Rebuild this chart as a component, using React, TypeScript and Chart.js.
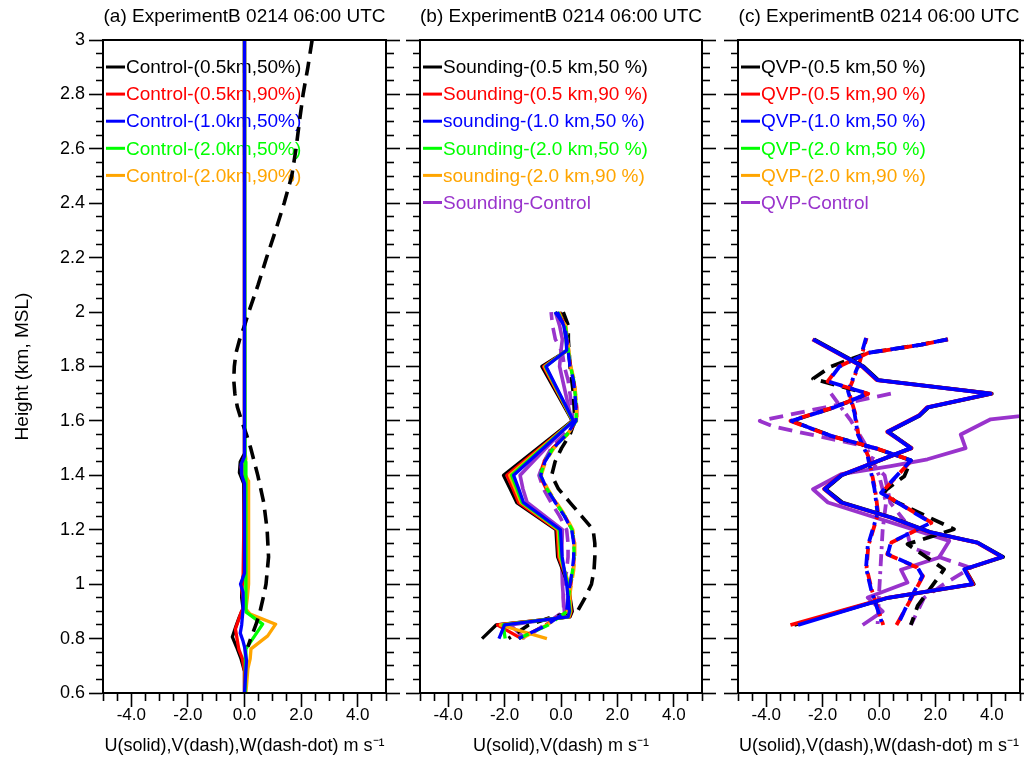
import { useEffect, useRef } from 'react';
import { Chart, registerables } from 'chart.js';

Chart.register(...registerables);

const FONT = '"Liberation Sans", Arial, Helvetica, sans-serif';

const BLACK = '#000000';
const RED = '#ff0000';
const BLUE = '#0000ff';
const GREEN = '#00ff00';
const ORANGE = '#ffa500';
const PURPLE = '#9933cc';

// ---------- axis setup ----------
const X_MIN = -5;
const X_MAX = 5;
const Y_MIN = 0.6;
const Y_MAX = 3.0;

// ---------- titles ----------
const TITLE_A = '(a) ExperimentB 0214 06:00 UTC';
const TITLE_B = '(b) ExperimentB 0214 06:00 UTC';
const TITLE_C = '(c) ExperimentB 0214 06:00 UTC';
const XTITLE_A = 'U(solid),V(dash),W(dash-dot) m s\u207B\u00B9';
const XTITLE_B = 'U(solid),V(dash) m s\u207B\u00B9';
const XTITLE_C = 'U(solid),V(dash),W(dash-dot) m s\u207B\u00B9';
const YTITLE = 'Height (km, MSL)';

// ---------- legends ----------
const LEGEND_A_LABELS = ['Control-(0.5km,50%)', 'Control-(0.5km,90%)', 'Control-(1.0km,50%)', 'Control-(2.0km,50%)', 'Control-(2.0km,90%)'];
const LEGEND_A_COLORS = [BLACK, RED, BLUE, GREEN, ORANGE];
const LEGEND_B_LABELS = ['Sounding-(0.5 km,50 %)', 'Sounding-(0.5 km,90 %)', 'sounding-(1.0 km,50 %)', 'Sounding-(2.0 km,50 %)', 'sounding-(2.0 km,90 %)', 'Sounding-Control'];
const LEGEND_B_COLORS = [BLACK, RED, BLUE, GREEN, ORANGE, PURPLE];
const LEGEND_C_LABELS = ['QVP-(0.5 km,50 %)', 'QVP-(0.5 km,90 %)', 'QVP-(1.0 km,50 %)', 'QVP-(2.0 km,50 %)', 'QVP-(2.0 km,90 %)', 'QVP-Control'];
const LEGEND_C_COLORS = [BLACK, RED, BLUE, GREEN, ORANGE, PURPLE];

// ---------- panel (a) data : heights (km) and wind (m/s) ----------
const A_BLACK_V_H = [3.0, 2.9, 2.8, 2.7, 2.6, 2.5, 2.4, 2.3, 2.2, 2.1, 2.0, 1.95, 1.9, 1.85, 1.8, 1.75, 1.7, 1.65, 1.6, 1.55, 1.5, 1.4, 1.3, 1.2, 1.1, 1.0, 0.95, 0.9, 0.85, 0.8, 0.77];
const A_BLACK_V = [2.39, 2.24, 2.07, 1.94, 1.82, 1.67, 1.4, 1.1, 0.78, 0.48, 0.15, 0.0, -0.17, -0.3, -0.36, -0.38, -0.34, -0.25, -0.1, 0.07, 0.22, 0.47, 0.68, 0.8, 0.85, 0.76, 0.66, 0.55, 0.4, 0.22, 0.12];
const A_BLACK_U_H = [3.0, 1.48, 1.45, 1.41, 1.37, 1.05, 1.0, 0.95, 0.91, 0.88, 0.846, 0.806, 0.769, 0.725, 0.68, 0.6];
const A_BLACK_U = [0, 0, -0.15, -0.18, -0.03, 0, -0.1, -0.1, -0.05, -0.18, -0.3, -0.43, -0.28, -0.12, 0, 0];
const A_RED_U_H = [3.0, 1.47, 1.43, 1.39, 1.02, 0.98, 0.92, 0.897, 0.835, 0.76, 0.725, 0.68, 0.6];
const A_RED_U = [0, 0, -0.12, 0, -0.05, -0.1, 0, -0.12, -0.32, -0.2, -0.07, 0, 0];
const A_BLUE_U_H = [3.0, 1.47, 1.44, 1.4, 1.37, 1.04, 1.0, 0.97, 0.91, 0.85, 0.82, 0.79, 0.77, 0.72, 0.6];
const A_BLUE_U = [0, 0, -0.12, -0.1, 0, 0, -0.14, -0.05, -0.05, -0.1, -0.15, -0.05, 0, 0.07, 0];
const A_GREEN_U_H = [3.0, 1.45, 0.91, 0.897, 0.853, 0.762, 0.7, 0.6];
const A_GREEN_U = [0, 0.02, 0.05, 0.06, 0.64, 0.05, 0.04, 0.02];
const A_ORANGE_U_H = [3.0, 1.5, 1.46, 1.42, 1.38, 1.2, 1.0, 0.95, 0.908, 0.89, 0.853, 0.81, 0.762, 0.725, 0.69, 0.6];
const A_ORANGE_U = [0, 0, 0.05, -0.06, 0.13, 0.15, 0.14, 0.1, 0.05, 0.2, 1.1, 0.82, 0.23, 0.2, 0.12, 0.05];

// ---------- panel (b) data ----------
const B_U_H = [2.0, 1.95, 1.9, 1.86, 1.8, 1.6, 1.4, 1.35, 1.3, 1.2, 1.1, 1.0, 0.9, 0.88, 0.85, 0.8];
const B_BLACK_U = [-0.04, 0.14, 0.2, 0.24, -0.68, 0.4, -2.04, -1.8, -1.57, -0.18, -0.12, 0.25, 0.4, 0.32, -2.3, -2.8];
const B_RED_U = [-0.06, 0.13, 0.2, 0.23, -0.62, 0.42, -1.92, -1.7, -1.5, -0.14, -0.08, 0.27, 0.36, 0.3, -2.25, -1.4];
const B_ORANGE_U = [-0.08, 0.12, 0.18, 0.22, -0.58, 0.42, -1.82, -1.62, -1.42, -0.1, -0.04, 0.29, 0.34, 0.28, -2.15, -0.5];
const B_GREEN_U = [-0.1, 0.11, 0.18, 0.21, -0.55, 0.43, -1.75, -1.56, -1.38, -0.06, 0.0, 0.24, 0.32, 0.26, -2.05, -1.98];
const B_BLUE_U = [-0.13, 0.1, 0.18, 0.2, -0.53, 0.44, -1.68, -1.5, -1.33, -0.02, 0.04, 0.2, 0.3, 0.25, -2.0, -2.2];
const B_PURPLE_U = [-0.2, -0.05, 0.05, 0.0, -0.05, 0.38, -1.45, -1.35, -1.2, 0.05, 0.02, 0.05, 0.12, 0.2, -1.8, -1.27];

const B_V_H = [2.0, 1.95, 1.9, 1.85, 1.8, 1.75, 1.7, 1.65, 1.6, 1.55, 1.5, 1.45, 1.4, 1.35, 1.3, 1.25, 1.2, 1.15, 1.1, 1.05, 1.0, 0.95, 0.9, 0.85, 0.8];
const B_BLUE_V = [-0.21, 0.14, 0.2, 0.26, 0.32, 0.44, 0.49, 0.53, 0.53, 0.2, -0.27, -0.57, -0.72, -0.5, -0.2, 0.12, 0.38, 0.45, 0.45, 0.4, 0.32, 0.25, 0.2, -0.5, -1.5];
const B_RED_V = [-0.18, 0.16, 0.22, 0.28, 0.34, 0.46, 0.51, 0.56, 0.56, 0.22, -0.3, -0.6, -0.76, -0.52, -0.18, 0.14, 0.4, 0.47, 0.47, 0.43, 0.35, 0.28, 0.22, -0.55, -1.45];
const B_GREEN_V = [-0.2, 0.15, 0.21, 0.27, 0.33, 0.45, 0.5, 0.54, 0.54, 0.21, -0.28, -0.58, -0.73, -0.5, -0.19, 0.13, 0.39, 0.46, 0.46, 0.41, 0.33, 0.26, 0.21, -0.45, -1.5];
const B_ORANGE_V = [-0.17, 0.17, 0.23, 0.29, 0.35, 0.47, 0.52, 0.55, 0.55, 0.23, -0.25, -0.55, -0.7, -0.47, -0.16, 0.16, 0.42, 0.49, 0.49, 0.45, 0.37, 0.3, 0.24, -0.5, -1.4];
const B_PURPLE_V = [-0.35, -0.3, -0.2, 0.05, 0.12, 0.25, 0.32, 0.38, 0.42, 0.1, -0.35, -0.6, -0.78, -0.62, -0.35, -0.05, 0.2, 0.25, 0.25, 0.2, 0.12, 0.08, 0.1, -0.6, -1.27];
const B_BLACK_V_H = [2.0, 1.95, 1.9, 1.8, 1.7, 1.6, 1.55, 1.5, 1.45, 1.4, 1.35, 1.3, 1.25, 1.2, 1.15, 1.1, 1.05, 1.0, 0.95, 0.9, 0.88, 0.85, 0.8];
const B_BLACK_V = [0.08, 0.26, 0.26, 0.32, 0.44, 0.49, 0.32, 0.02, -0.21, -0.33, -0.09, 0.32, 0.73, 1.14, 1.2, 1.2, 1.17, 1.08, 0.85, 0.58, -0.3, -1.15, -1.86];

// ---------- panel (c) data ----------
const C_U_H = [1.9, 1.8, 1.75, 1.7, 1.65, 1.62, 1.56, 1.5, 1.4, 1.35, 1.3, 1.245, 1.19, 1.153, 1.1, 1.055, 1.0, 0.95, 0.85];
const C_BLUE_U = [-2.34, -0.58, -0.05, 3.96, 1.72, 1.43, 0.31, 1.13, -1.34, -1.93, -1.34, 0.42, 1.84, 3.49, 4.37, 3.02, 3.31, 0.31, -2.87];
const C_RED_U = [-2.36, -0.6, -0.08, 3.98, 1.7, 1.41, 0.29, 1.15, -1.36, -1.95, -1.36, 0.4, 1.82, 3.47, 4.35, 3.05, 3.34, 0.29, -3.14];
const C_BLACK_U = [-2.3, -0.55, -0.02, 4.0, 1.75, 1.45, 0.33, 1.15, -1.32, -1.9, -1.3, 0.45, 1.86, 3.5, 4.4, 3.05, 3.36, 0.33, -3.0];
const C_PURPLE_U_H = [1.66, 1.618, 1.606, 1.55, 1.5, 1.459, 1.434, 1.404, 1.349, 1.3, 1.159, 1.098, 1.053, 1.006, 0.951, 0.9, 0.85];
const C_PURPLE_U = [6.0, 5.02, 3.96, 2.9, 3.07, 1.72, 0.42, -1.34, -2.34, -1.81, 2.49, 2.13, 0.78, 1.01, -0.4, 0.13, -0.58];

const C_BLACK_V_H = [1.9, 1.88, 1.85, 1.8, 1.755, 1.7, 1.65, 1.6, 1.545, 1.497, 1.455, 1.397, 1.342, 1.306, 1.202, 1.147, 1.055, 0.92, 0.85];
const C_BLACK_V = [2.43, 1.5, -0.4, -1.7, -2.34, -0.4, -1.58, -3.1, -1.7, -0.05, 1.13, 0.9, 0.19, 0.54, 2.66, 1.01, 2.31, 1.37, 1.13];
const C_BLUE_V_H = [1.9, 1.88, 1.85, 1.8, 1.745, 1.7, 1.65, 1.6, 1.545, 1.497, 1.455, 1.336, 1.226, 1.153, 1.11, 1.061, 1.03, 0.926, 0.85];
const C_BLUE_V = [2.43, 1.5, -0.4, -1.4, -1.8, -0.4, -1.58, -3.1, -1.7, -0.05, 1.13, 0.07, 1.84, 0.42, 0.31, 1.37, 1.54, 1.01, 0.66];
const C_RED_V = [2.45, 1.52, -0.38, -1.42, -1.82, -0.38, -1.6, -3.14, -1.72, -0.03, 1.15, 0.09, 1.86, 0.44, 0.29, 1.35, 1.56, 1.03, 0.62];
const C_PURPLE_V_H = [1.7, 1.65, 1.6, 1.578, 1.545, 1.497, 1.45, 1.4, 1.3, 1.233, 1.135, 1.06, 1.0, 0.95, 0.85];
const C_PURPLE_V = [0.42, -1.9, -4.23, -3.7, -2.2, -0.05, -0.3, 0.2, 0.4, 0.9, 1.13, 3.25, 2.3, 1.6, 1.13];

const C_BLUE_W_H = [1.905, 1.8, 1.71, 1.63, 1.55, 1.47, 1.35, 1.26, 1.14, 1.06, 0.98, 0.85];
const C_BLUE_W = [-0.46, -0.75, -1.1, -0.87, -0.75, -0.4, -0.16, -0.05, -0.4, -0.46, -0.28, 0.13];
const C_RED_W = [-0.44, -0.73, -1.08, -0.85, -0.73, -0.38, -0.14, -0.03, -0.38, -0.44, -0.26, 0.15];
const C_PURPLE_W_H = [1.7, 1.6, 1.52, 1.4, 1.3, 1.2, 0.98, 0.85];
const C_PURPLE_W = [-1.7, -0.99, -0.52, 0.0, 0.25, 0.13, 0.01, -0.05];

// ---------- helpers ----------
const zip = (h: number[], v: number[]) => h.map((y, i) => ({ x: v[i], y }));

type Kind = 'solid' | 'dash' | 'dashdot';
function series(label: string, h: number[], v: number[], color: string, kind: Kind, width: number, dashOffset = 0) {
  return {
    label,
    data: zip(h, v),
    showLine: true,
    borderColor: color,
    backgroundColor: color,
    borderWidth: width,
    borderDash: kind === 'dash' ? [14, 8] : kind === 'dashdot' ? [12, 5, 3, 5] : [],
    borderDashOffset: dashOffset,
    borderCapStyle: 'butt',
    borderJoinStyle: 'round',
    pointRadius: 0,
    pointHoverRadius: 0,
    tension: 0,
    fill: false,
  };
}

const near = (v: number, step: number) => Math.abs(v / step - Math.round(v / step)) < 1e-6;
const isMajorX = (v: number) => near(v, 2) && Math.abs(v) < 4.99;
const isMajorY = (v: number) => near(v, 0.2);

function makeScales(showYLabels: boolean, leftW: number, rightW: number, xTitle: string) {
  const tickBase = { color: BLACK };
  return {
    x: {
      type: 'linear',
      position: 'bottom',
      min: X_MIN,
      max: X_MAX,
      afterFit: (s: any) => { s.height = 76; },
      border: { display: true, color: BLACK, width: 2 },
      grid: {
        drawOnChartArea: false,
        drawTicks: true,
        tickLength: 14,
        tickColor: BLACK,
        tickWidth: 1.6,
        tickBorderDash: (ctx: any) => (ctx.tick && isMajorX(ctx.tick.value) ? [] : [7, 100]),
      },
      ticks: {
        ...tickBase,
        count: 21,
        precision: 1,
        autoSkip: false,
        maxRotation: 0,
        minRotation: 0,
        padding: 0,
        font: { family: FONT, size: 17, lineHeight: 1 },
        callback: (v: any) => (isMajorX(Number(v)) ? (Math.round(Number(v) * 10) / 10).toFixed(1) : ''),
      },
      title: {
        display: true,
        text: xTitle,
        color: BLACK,
        font: { family: FONT, size: 18, lineHeight: 1.2 },
        padding: { top: 0, bottom: 12 },
      },
    },
    y: {
      type: 'linear',
      position: 'left',
      min: Y_MIN,
      max: Y_MAX,
      afterFit: (s: any) => { s.width = leftW; },
      border: { display: true, color: BLACK, width: 2 },
      grid: {
        drawOnChartArea: false,
        drawTicks: true,
        tickLength: 14,
        tickColor: BLACK,
        tickWidth: 1.6,
        tickBorderDash: (ctx: any) => (ctx.tick && isMajorY(ctx.tick.value) ? [] : [0, 7, 100]),
      },
      ticks: {
        ...tickBase,
        display: showYLabels,
        count: 49,
        precision: 2,
        autoSkip: false,
        padding: 4,
        font: { family: FONT, size: 18 },
        callback: (v: any) => (isMajorY(Number(v)) ? String(Math.round(Number(v) * 10) / 10) : ''),
      },
      title: {
        display: showYLabels,
        text: YTITLE,
        color: BLACK,
        font: { family: FONT, size: 19, lineHeight: 1.2 },
        padding: { top: 11, bottom: 0 },
      },
    },
    y2: {
      type: 'linear',
      position: 'right',
      min: Y_MIN,
      max: Y_MAX,
      afterFit: (s: any) => { s.width = rightW; },
      border: { display: true, color: BLACK, width: 2 },
      grid: {
        drawOnChartArea: false,
        drawTicks: true,
        tickLength: 14,
        tickColor: BLACK,
        tickWidth: 1.6,
        tickBorderDash: (ctx: any) => (ctx.tick && isMajorY(ctx.tick.value) ? [] : [7, 100]),
      },
      ticks: { display: false, count: 49, precision: 2, autoSkip: false },
    },
  };
}

function framePlugin() {
  return {
    id: 'frame',
    afterDatasetsDraw(chart: any) {
      const { ctx, chartArea: a } = chart;
      ctx.save();
      ctx.strokeStyle = BLACK;
      ctx.lineWidth = 2;
      ctx.setLineDash([]);
      ctx.strokeRect(a.left, a.top, a.right - a.left, a.bottom - a.top);
      ctx.restore();
    },
  };
}

function legendPlugin(labels: string[], colors: string[]) {
  return {
    id: 'ncllegend',
    beforeDatasetsDraw(chart: any) {
      const { ctx, chartArea: a } = chart;
      ctx.save();
      ctx.font = `19px ${FONT}`;
      ctx.textBaseline = 'middle';
      ctx.textAlign = 'left';
      labels.forEach((text, i) => {
        const y = a.top + 27 + i * 27.1;
        ctx.strokeStyle = colors[i];
        ctx.lineWidth = 3;
        ctx.setLineDash([]);
        ctx.beginPath();
        ctx.moveTo(a.left + 3, y);
        ctx.lineTo(a.left + 22, y);
        ctx.stroke();
        ctx.fillStyle = colors[i];
        ctx.fillText(text, a.left + 23, y + 1);
      });
      ctx.restore();
    },
  };
}

function makeConfig(title: string, datasets: any[], scales: any, labels: string[], colors: string[]) {
  return {
    type: 'scatter',
    data: { datasets },
    options: {
      animation: false,
      responsive: false,
      maintainAspectRatio: false,
      events: [],
      layout: { padding: 0 },
      plugins: {
        legend: { display: false },
        tooltip: { enabled: false },
        title: {
          display: true,
          text: title,
          color: BLACK,
          fullSize: false,
          align: 'center',
          font: { family: FONT, size: 19, weight: 'normal', lineHeight: 1.2 },
          padding: { top: 5, bottom: 12.2 },
        },
      },
      scales,
    },
    plugins: [legendPlugin(labels, colors), framePlugin()],
  };
}

const W = 3.3;

function datasetsA() {
  return [
    series('Control-(1.0km,50%) U', A_BLUE_U_H, A_BLUE_U, BLUE, 'solid', W),
    series('Control-(0.5km,50%) V', A_BLACK_V_H, A_BLACK_V, BLACK, 'dash', 3.6),
    series('Control-(2.0km,50%) U', A_GREEN_U_H, A_GREEN_U, GREEN, 'solid', W),
    series('Control-(2.0km,90%) U', A_ORANGE_U_H, A_ORANGE_U, ORANGE, 'solid', W),
    series('Control-(0.5km,90%) U', A_RED_U_H, A_RED_U, RED, 'solid', W),
    series('Control-(0.5km,50%) U', A_BLACK_U_H, A_BLACK_U, BLACK, 'solid', W),
  ];
}

function datasetsB() {
  return [
    series('sounding-(1.0 km,50 %) U', B_U_H, B_BLUE_U, BLUE, 'solid', W),
    series('sounding-(1.0 km,50 %) V', B_V_H, B_BLUE_V, BLUE, 'dash', W),
    series('Sounding-(2.0 km,50 %) V', B_V_H, B_GREEN_V, GREEN, 'dash', W, 5),
    series('sounding-(2.0 km,90 %) V', B_V_H, B_ORANGE_V, ORANGE, 'dash', W, 10),
    series('Sounding-(0.5 km,90 %) V', B_V_H, B_RED_V, RED, 'dash', W, 15),
    series('Sounding-(2.0 km,50 %) U', B_U_H, B_GREEN_U, GREEN, 'solid', W),
    series('sounding-(2.0 km,90 %) U', B_U_H, B_ORANGE_U, ORANGE, 'solid', W),
    series('Sounding-(0.5 km,90 %) U', B_U_H, B_RED_U, RED, 'solid', W),
    series('Sounding-(0.5 km,50 %) U', B_U_H, B_BLACK_U, BLACK, 'solid', W),
    series('Sounding-(0.5 km,50 %) V', B_BLACK_V_H, B_BLACK_V, BLACK, 'dash', 3.6),
    series('Sounding-Control U', B_U_H, B_PURPLE_U, PURPLE, 'solid', 3.6),
    series('Sounding-Control V', B_V_H, B_PURPLE_V, PURPLE, 'dash', 3.6, 6),
  ];
}

function datasetsC() {
  const w = 3.8;
  return [
    series('QVP-(1.0 km,50 %) U', C_U_H, C_BLUE_U, BLUE, 'solid', w),
    series('QVP-(0.5 km,90 %) U', C_U_H, C_RED_U, RED, 'solid', w),
    series('QVP-(0.5 km,50 %) U', C_U_H, C_BLACK_U, BLACK, 'solid', w),
    series('QVP-(1.0 km,50 %) V', C_BLUE_V_H, C_BLUE_V, BLUE, 'dash', w),
    series('QVP-(0.5 km,90 %) V', C_BLUE_V_H, C_RED_V, RED, 'dash', w, 9),
    series('QVP-(0.5 km,50 %) V', C_BLACK_V_H, C_BLACK_V, BLACK, 'dash', w, 4),
    series('QVP-(1.0 km,50 %) W', C_BLUE_W_H, C_BLUE_W, BLUE, 'dashdot', w),
    series('QVP-(0.5 km,90 %) W', C_BLUE_W_H, C_RED_W, RED, 'dashdot', w, 6),
    series('QVP-Control U', C_PURPLE_U_H, C_PURPLE_U, PURPLE, 'solid', w),
    series('QVP-Control V', C_PURPLE_V_H, C_PURPLE_V, PURPLE, 'dash', w),
    series('QVP-Control W', C_PURPLE_W_H, C_PURPLE_W, PURPLE, 'dashdot', w),
  ];
}

const PANELS = [
  { left: 0, width: 400, leftW: 103, rightW: 14, showY: true, title: TITLE_A, xTitle: XTITLE_A, ds: datasetsA, labels: LEGEND_A_LABELS, colors: LEGEND_A_COLORS },
  { left: 400, width: 320, leftW: 20, rightW: 18, showY: false, title: TITLE_B, xTitle: XTITLE_B, ds: datasetsB, labels: LEGEND_B_LABELS, colors: LEGEND_B_COLORS },
  { left: 720, width: 304, leftW: 18, rightW: 4, showY: false, title: TITLE_C, xTitle: XTITLE_C, ds: datasetsC, labels: LEGEND_C_LABELS, colors: LEGEND_C_COLORS },
];

export default function App() {
  const refs = [useRef<HTMLCanvasElement>(null), useRef<HTMLCanvasElement>(null), useRef<HTMLCanvasElement>(null)];

  useEffect(() => {
    const charts: Chart[] = [];
    PANELS.forEach((p, i) => {
      const c = refs[i].current;
      if (!c) return;
      const cfg: any = makeConfig(p.title, p.ds(), makeScales(p.showY, p.leftW, p.rightW, p.xTitle), p.labels, p.colors);
      charts.push(new Chart(c, cfg));
    });
    return () => charts.forEach((ch) => ch.destroy());
  }, []);

  return (
    <div style={{ position: 'absolute', left: 0, top: 0, width: 1024, height: 769, background: '#ffffff', overflow: 'hidden' }}>
      {PANELS.map((p, i) => (
        <canvas
          key={i}
          ref={refs[i]}
          width={p.width}
          height={769}
          style={{ position: 'absolute', left: p.left, top: 0, width: p.width, height: 769 }}
        />
      ))}
    </div>
  );
}
